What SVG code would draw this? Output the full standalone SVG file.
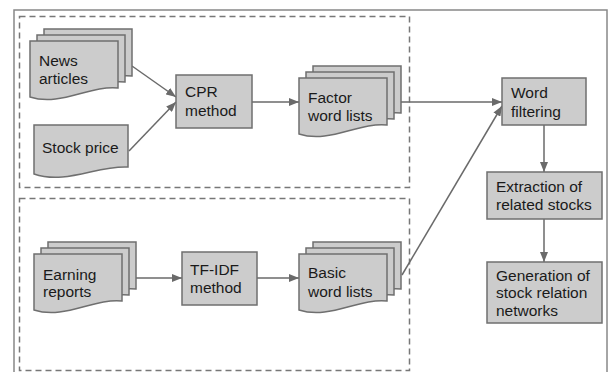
<svg xmlns="http://www.w3.org/2000/svg" xmlns:xlink="http://www.w3.org/1999/xlink" width="610" height="372" viewBox="0 0 610 372">
<style>
.shape{fill:#cccccc;stroke:#6f6f6f;stroke-width:1.5}
.frame{fill:none;stroke:#888888;stroke-width:1.5}
.dash{fill:none;stroke:#777777;stroke-width:1.5;stroke-dasharray:6 4}
.lbl{font-family:"Liberation Sans",Arial,sans-serif;font-size:15.5px;fill:#1a1a1a}
.conn{stroke:#6a6a6a;stroke-width:1.5;fill:none;marker-end:url(#arr)}
</style>
<defs>
<marker id="arr" markerUnits="userSpaceOnUse" markerWidth="11" markerHeight="8" refX="10" refY="4" orient="auto">
<path d="M0,0 L10,4 L0,8 Z" fill="#6a6a6a"/>
</marker>
<path id="doc" d="M0,0 H88 V47 C60,44 30,66 0,56 Z"/>
</defs>
<rect class="frame" x="14" y="10" width="593" height="380"/>
<rect class="dash" x="19.5" y="16.5" width="390" height="171"/>
<rect class="dash" x="19.5" y="198.5" width="390" height="172"/>
<g id="connectors">
<line class="conn" x1="132" y1="66" x2="176" y2="97"/>
<line class="conn" x1="129" y1="151" x2="176" y2="102"/>
<line class="conn" x1="252" y1="102" x2="299" y2="102"/>
<line class="conn" x1="401" y1="102" x2="502" y2="102"/>
<line class="conn" x1="402" y1="275" x2="502" y2="106"/>
<line class="conn" x1="136" y1="278" x2="182" y2="278"/>
<line class="conn" x1="257" y1="278" x2="299" y2="278"/>
<line class="conn" x1="544" y1="125" x2="544" y2="172"/>
<line class="conn" x1="544" y1="219" x2="544" y2="262"/>
</g>
<g id="news">
<use xlink:href="#doc" href="#doc" class="shape" x="44" y="29"/>
<use xlink:href="#doc" href="#doc" class="shape" x="37" y="35"/>
<use xlink:href="#doc" href="#doc" class="shape" x="30" y="41"/>
<text class="lbl" x="39" y="66">News</text>
<text class="lbl" x="39" y="84">articles</text>
</g>
<g id="stock">
<path class="shape" d="M34,125 H128 V167 C98,165 66,185 34,174 Z"/>
<text class="lbl" x="42" y="153">Stock price</text>
</g>
<g id="cpr">
<rect class="shape" x="176" y="75" width="76" height="53"/>
<text class="lbl" x="185" y="97">CPR</text>
<text class="lbl" x="185" y="116">method</text>
</g>
<g id="factor">
<use xlink:href="#doc" href="#doc" class="shape" x="313" y="66"/>
<use xlink:href="#doc" href="#doc" class="shape" x="306" y="72"/>
<use xlink:href="#doc" href="#doc" class="shape" x="299" y="78"/>
<text class="lbl" x="308" y="103">Factor</text>
<text class="lbl" x="308" y="121">word lists</text>
</g>
<g id="earning">
<use xlink:href="#doc" href="#doc" class="shape" x="48" y="242"/>
<use xlink:href="#doc" href="#doc" class="shape" x="41" y="248"/>
<use xlink:href="#doc" href="#doc" class="shape" x="34" y="254"/>
<text class="lbl" x="43" y="280">Earning</text>
<text class="lbl" x="43" y="297">reports</text>
</g>
<g id="tfidf">
<rect class="shape" x="182" y="252" width="75" height="53"/>
<text class="lbl" x="190" y="275">TF-IDF</text>
<text class="lbl" x="190" y="293">method</text>
</g>
<g id="basic">
<use xlink:href="#doc" href="#doc" class="shape" x="313" y="242"/>
<use xlink:href="#doc" href="#doc" class="shape" x="306" y="248"/>
<use xlink:href="#doc" href="#doc" class="shape" x="299" y="254"/>
<text class="lbl" x="308" y="278">Basic</text>
<text class="lbl" x="308" y="297">word lists</text>
</g>
<g id="wordfilter">
<rect class="shape" x="502" y="78" width="84" height="47"/>
<text class="lbl" x="511" y="98">Word</text>
<text class="lbl" x="511" y="117">filtering</text>
</g>
<g id="extraction">
<rect class="shape" x="487" y="172" width="115" height="47"/>
<text class="lbl" x="496" y="192">Extraction of</text>
<text class="lbl" x="496" y="210">related stocks</text>
</g>
<g id="generation">
<rect class="shape" x="487" y="262" width="115" height="61"/>
<text class="lbl" x="496" y="281">Generation of</text>
<text class="lbl" x="496" y="298">stock relation</text>
<text class="lbl" x="496" y="316">networks</text>
</g>
</svg>
